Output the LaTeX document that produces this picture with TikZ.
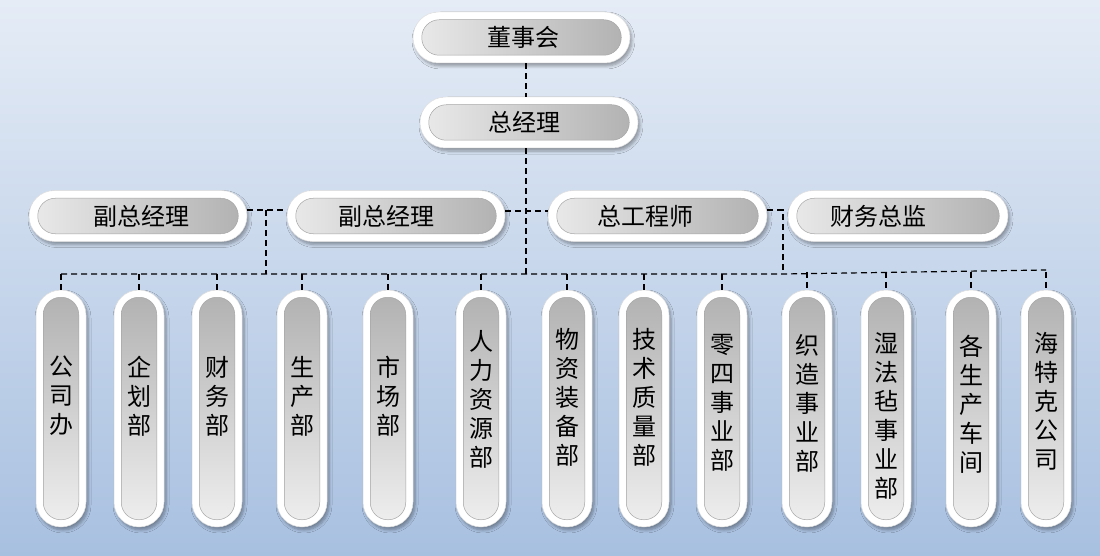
\documentclass[tikz,border=0pt]{standalone}
\usepackage{fontspec}
\newfontfamily\cjk{Noto Sans CJK SC}
\usetikzlibrary{calc,shadows.blur}
\definecolor{bgtop}{RGB}{229,236,246}
\definecolor{bgbot}{RGB}{168,192,224}
\tikzset{
  pillout/.style={rectangle, fill=white, draw=gray!25, line width=0.5pt,
    blur shadow={shadow xshift=2pt, shadow yshift=-3pt, shadow blur steps=6, shadow opacity=35, shadow blur radius=3pt}},
  hout/.style={pillout, rounded corners=25.5pt, minimum height=51pt, inner sep=0pt},
  vout/.style={pillout, rounded corners=25pt, minimum width=50pt, minimum height=237pt, inner sep=0pt},
  hin/.style={left color=black!9, right color=black!30, draw=black!35, line width=0.5pt, rounded corners=17.5pt},
  vin/.style={top color=black!30, bottom color=black!7, draw=black!35, line width=0.5pt, rounded corners=17.5pt},
  htext/.style={font=\cjk\fontsize{24}{29}\selectfont, inner sep=0pt, text=black},
  vtext/.style={font=\cjk\fontsize{24}{29}\selectfont, inner sep=0pt, align=center, text=black},
  link/.style={draw=black, line width=1.2pt, dash pattern=on 6pt off 4pt}
}
\newcommand\hpill[6]{%
  \node[hout, minimum width=#4] (#1) at (#2,#3) {};
  \path[hin] ($(#1.north west)+(9,8)$) rectangle ($(#1.south east)+(-9,-8)$);
  \node[htext] (#1t) at (#5,#3) {#6};
}
\newcommand\vpill[4]{%
  \node[vout] (#1) at (#2,408.5) {};
  \path[vin] ($(#1.north west)+(7.5,7.5)$) rectangle ($(#1.south east)+(-7.5,-7.5)$);
  \node[vtext] (#1t) at (#2,#3) {#4};
}
\begin{document}
\begin{tikzpicture}[x=1pt,y=-1pt]
\useasboundingbox (0,0) rectangle (1100,556);
\shade[top color=bgtop, bottom color=bgbot] (0,0) rectangle (1100,556);

% routing coordinates
\coordinate (trunk) at (526,275);
\coordinate (hA) at (0,210);
\coordinate (hB) at (0,211);
\coordinate (dropL) at (266,274);
\coordinate (dropR) at (783,274);
\coordinate (busL) at (61,274);
\coordinate (busR) at (1046,270);

% top boxes
\hpill{dsh}{521.5}{37.5}{217pt}{523}{董事会}
\hpill{zjl}{529}{122.5}{218pt}{524}{总经理}
% second row
\hpill{fz1}{138}{216}{218pt}{141}{副总经理}
\hpill{fz2}{396}{216}{218pt}{386}{副总经理}
\hpill{zgc}{657.5}{216}{219pt}{645}{总工程师}
\hpill{cwzj}{898}{216}{220pt}{878}{财务总监}

% bottom row
\vpill{b1}{61}{396}{公\\司\\办}
\vpill{b2}{139}{396}{企\\划\\部}
\vpill{b3}{217}{396}{财\\务\\部}
\vpill{b4}{302}{396}{生\\产\\部}
\vpill{b5}{388}{396}{市\\场\\部}
\vpill{b6}{481}{399}{人\\力\\资\\源\\部}
\vpill{b7}{567}{397}{物\\资\\装\\备\\部}
\vpill{b8}{644}{397}{技\\术\\质\\量\\部}
\vpill{b9}{722}{403}{零\\四\\事\\业\\部}
\vpill{b10}{807}{403}{织\\造\\事\\业\\部}
\vpill{b11}{886}{416}{湿\\法\\毡\\事\\业\\部}
\vpill{b12}{971}{404}{各\\生\\产\\车\\间}
\vpill{b13}{1046}{401}{海\\特\\克\\公\\司}

% connectors
\draw[link] (dsh.south -| trunk) -- (zjl.north -| trunk);
\draw[link] (zjl.south -| trunk) -- (trunk);
\draw[link] (fz1.east |- hA) -- (fz2.west |- hA);
\draw[link] (fz2.east |- hB) -- (zgc.west |- hB);
\draw[link] (dropL |- hA) -- (dropL);
\draw[link] (zgc.east |- hA) -- (dropR |- hA) -- (dropR);
\draw[link] (b1.north |- busL) -- (dropR) -- (b13.north |- busR);

% ticks from bus to boxes
\foreach \b in {b1,b2,b3,b4,b5,b6,b7,b8,b9}
  \draw[link] (\b.north |- busL) -- (\b.north);
\foreach \b in {b10,b11,b12,b13}
  \draw[link] ($(\b.north)+(0,-18)$) -- (\b.north);
\end{tikzpicture}
\end{document}
